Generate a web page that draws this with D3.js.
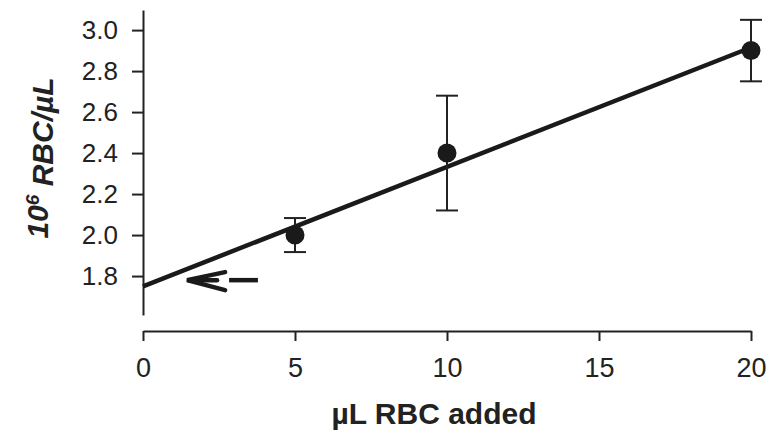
<!DOCTYPE html>
<html>
<head>
<meta charset="UTF-8">
<title>RBC standard curve</title>
<script src="https://cdn.jsdelivr.net/npm/d3@7"></script>
<style type="text/css">
	body{ margin:0; background:#fff; }
	svg{ display:block; }
	text{ font-family: Arial, "Liberation Sans", sans-serif; fill:#222; }
</style>
</head>
<body>
<script>
// measured points
var added = [5, 10, 20];
var rbc = [2.00, 2.40, 2.90];
var err = [0.083, 0.28, 0.15];

// regression line ends
var fitX = [0, 20];
var fitY = [1.75, 2.915];

// arrow pointing to intercept
var arrowY = 1.78;
var arrowX = [1.45, 3.78];

var xTicks = [0, 5, 10, 15, 20];
var yTicks = [1.8, 2.0, 2.2, 2.4, 2.6, 2.8, 3.0];

var width = 771, height = 433;
var ink = "#222";

var svg = d3.select("body").append("svg")
	.attr("width", width)
	.attr("height", height);

var x = d3.scaleLinear().domain([0, 20]).range([143, 751]);
var y = d3.scaleLinear().domain([1.61, 3.098]).range([315, 10]);

// y axis
var yAxis = svg.append("g")
	.attr("transform", "translate(143,0)")
	.call(d3.axisLeft(y).tickValues(yTicks).tickFormat(d3.format(".1f")).tickSize(11).tickSizeOuter(0).tickPadding(14));
yAxis.select(".domain").attr("stroke", ink).attr("stroke-width", 2);
yAxis.selectAll(".tick line").attr("stroke", ink).attr("stroke-width", 2);
yAxis.selectAll(".tick text").attr("font-size", "26px").attr("fill", ink).attr("font-family", null).attr("dy", "0.34em");

// x axis (offset below)
var xAxis = svg.append("g")
	.attr("transform", "translate(0,331)")
	.call(d3.axisBottom(x).tickValues(xTicks).tickSize(-10).tickSizeOuter(0).tickPadding(16));
xAxis.select(".domain").attr("stroke", ink).attr("stroke-width", 2);
xAxis.selectAll(".tick line").attr("stroke", ink).attr("stroke-width", 2).attr("y2", 10);
xAxis.selectAll(".tick text").attr("font-size", "27px").attr("fill", ink).attr("font-family", null).attr("dy", "1.12em");

// titles
svg.append("text")
	.attr("x", 434).attr("y", 424)
	.attr("text-anchor", "middle")
	.attr("font-size", "30px")
	.attr("font-weight", "bold")
	.text("\u00B5L RBC added");

var yt = svg.append("text")
	.attr("transform", "translate(48,158) rotate(-90)")
	.attr("text-anchor", "middle")
	.attr("font-size", "30px")
	.attr("font-weight", "bold")
	.attr("font-style", "italic");
yt.append("tspan").text("10");
yt.append("tspan").attr("dy", "-0.45em").attr("font-size", "19px").text("6");
yt.append("tspan").attr("dy", "0.45em").text(" RBC/\u00B5L");

// regression line
svg.append("line")
	.attr("x1", x(fitX[0])).attr("y1", y(fitY[0]))
	.attr("x2", x(fitX[1])).attr("y2", y(fitY[1]))
	.attr("stroke", "#1a1a1a").attr("stroke-width", 4.5);

// error bars
var pts = added.map(function(d, i){ return {x: d, y: rbc[i], e: err[i]}; });
var eb = svg.append("g").attr("stroke", ink).attr("stroke-width", 2);
eb.selectAll(".v").data(pts).enter().append("line")
	.attr("x1", function(d){ return x(d.x); }).attr("x2", function(d){ return x(d.x); })
	.attr("y1", function(d){ return y(d.y + d.e); }).attr("y2", function(d){ return y(d.y - d.e); });
eb.selectAll(".t").data(pts).enter().append("line")
	.attr("x1", function(d){ return x(d.x) - 11; }).attr("x2", function(d){ return x(d.x) + 11; })
	.attr("y1", function(d){ return y(d.y + d.e); }).attr("y2", function(d){ return y(d.y + d.e); });
eb.selectAll(".b").data(pts).enter().append("line")
	.attr("x1", function(d){ return x(d.x) - 11; }).attr("x2", function(d){ return x(d.x) + 11; })
	.attr("y1", function(d){ return y(d.y - d.e); }).attr("y2", function(d){ return y(d.y - d.e); });

// points
svg.selectAll("circle").data(pts).enter().append("circle")
	.attr("cx", function(d){ return x(d.x); })
	.attr("cy", function(d){ return y(d.y); })
	.attr("r", 9.5)
	.attr("fill", "#1a1a1a");

// dashed arrow
var ay = y(arrowY), ax0 = x(arrowX[0]), ax1 = x(arrowX[1]);
var arrow = svg.append("g").attr("stroke", "#1a1a1a").attr("stroke-width", 4.5).attr("stroke-linecap", "round").attr("fill", "none");
arrow.append("line").attr("x1", ax0 + 2).attr("y1", ay).attr("x2", ax0 + 30).attr("y2", ay);
arrow.append("line").attr("x1", ax0 + 42).attr("y1", ay).attr("x2", ax1).attr("y2", ay).attr("stroke-linecap", "butt");
arrow.append("path")
	.attr("d", "M" + (ax0 + 38) + "," + (ay - 8) + "L" + ax0 + "," + ay + "L" + (ax0 + 38) + "," + (ay + 10))
	.attr("stroke-linejoin", "miter");
</script>
</body>
</html>
